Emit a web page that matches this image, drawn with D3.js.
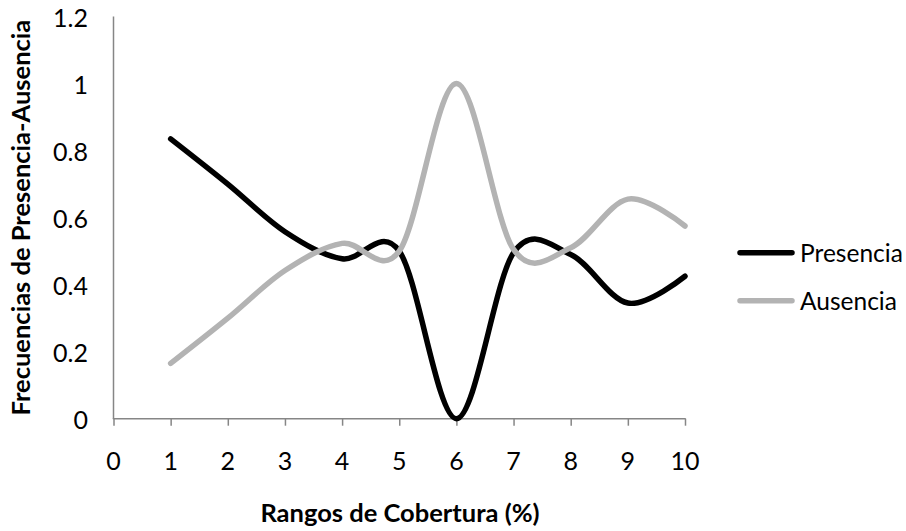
<!DOCTYPE html>
<html>
<head>
<meta charset="utf-8">
<script src="https://cdn.jsdelivr.net/npm/d3@7"></script>
<style>
  html, body { margin: 0; padding: 0; background: #fff; }
  svg { display: block; }
  text { font-family: Lato, "Open Sans", sans-serif; fill: #000; }
</style>
</head>
<body>
<script>
const categories = [1, 2, 3, 4, 5, 6, 7, 8, 9, 10];
const presencia = [0.835, 0.70, 0.558, 0.477, 0.50, 0.0, 0.495, 0.49, 0.345, 0.425];
const ausencia  = [0.165, 0.30, 0.442, 0.523, 0.50, 1.0, 0.505, 0.51, 0.655, 0.575];
const xTicks = [0, 1, 2, 3, 4, 5, 6, 7, 8, 9, 10];
const yTicks = [0, 0.2, 0.4, 0.6, 0.8, 1, 1.2];
const seriesNames = ["Presencia", "Ausencia"];
const seriesColors = ["#000000", "#b3b3b3"];

const W = 906, H = 531;
const svg = d3.select("body").append("svg").attr("width", W).attr("height", H);

const x = d3.scaleLinear().domain([0, 10]).range([113.5, 685]);
const y = d3.scaleLinear().domain([0, 1.2]).range([418.7, 16.5]);

const axisColor = "#868686";

// Y axis line (no ticks)
svg.append("line")
  .attr("x1", x(0)).attr("x2", x(0))
  .attr("y1", y(1.2)).attr("y2", y(0))
  .attr("stroke", axisColor).attr("stroke-width", 1.5);

// Y tick labels
svg.selectAll(".ylab").data(yTicks).enter().append("text")
  .attr("x", 88).attr("y", d => y(d))
  .attr("text-anchor", "end").attr("dominant-baseline", "central")
  .style("font-size", "25px")
  .text(d => String(d));

// X axis with ticks
const xAxis = d3.axisBottom(x).tickValues(xTicks).tickSize(7).tickFormat("");
const gx = svg.append("g").attr("transform", `translate(0,${y(0)})`).call(xAxis);
gx.select(".domain").attr("stroke", axisColor).attr("stroke-width", 1.5)
  .attr("d", `M${x(0)},0.5V0H${x(10)}V0.5`);
gx.selectAll(".tick line").attr("stroke", axisColor).attr("stroke-width", 1.5);

svg.selectAll(".xlab").data(xTicks).enter().append("text")
  .attr("x", d => x(d)).attr("y", 470)
  .attr("text-anchor", "middle")
  .style("font-size", "25px")
  .text(d => String(d));

// Lines
const line = d3.line()
  .x((d, i) => x(categories[i]))
  .y(d => y(d))
  .curve(d3.curveCardinal.tension(0));

const seriesData = [presencia, ausencia];
[0, 1].forEach(k => {
  svg.append("path")
    .datum(seriesData[k])
    .attr("d", line)
    .attr("fill", "none")
    .attr("stroke", seriesColors[k])
    .attr("stroke-width", 5.5)
    .attr("stroke-linecap", "round")
    .attr("stroke-linejoin", "round");
});

// Legend
const legY = [252.7, 300.7];
seriesNames.forEach((name, k) => {
  svg.append("line")
    .attr("x1", 740).attr("x2", 792)
    .attr("y1", legY[k]).attr("y2", legY[k])
    .attr("stroke", seriesColors[k]).attr("stroke-width", 5.5)
    .attr("stroke-linecap", "round");
  svg.append("text")
    .attr("x", 800).attr("y", legY[k])
    .attr("dominant-baseline", "central")
    .style("font-size", "24.5px")
    .text(name);
});

// Axis titles
svg.append("text")
  .attr("x", 400).attr("y", 522)
  .attr("text-anchor", "middle")
  .style("font-size", "25.5px").style("font-weight", "bold")
  .text("Rangos de Cobertura (%)");

svg.append("text")
  .attr("transform", `translate(30,${(y(0) + y(1.2)) / 2}) rotate(-90)`)
  .attr("text-anchor", "middle")
  .style("font-size", "25.5px").style("font-weight", "bold")
  .text("Frecuencias de Presencia-Ausencia");
</script>
</body>
</html>
